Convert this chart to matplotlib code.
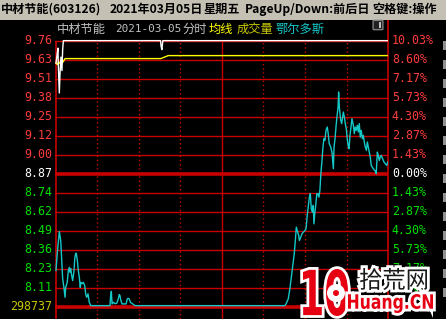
import matplotlib
matplotlib.use('Agg')
import matplotlib.pyplot as plt
import matplotlib.patheffects as pe
from matplotlib.patches import Rectangle, PathPatch, Circle, FancyBboxPatch
from matplotlib.textpath import TextPath
from matplotlib.font_manager import FontProperties
from matplotlib.transforms import Affine2D, IdentityTransform

# ---- data ----
prev_close = 8.87

# row levels (percent vs previous close) and their labels
row_pct = [10.03, 8.60, 7.17, 5.73, 4.30, 2.87, 1.43, 0.00,
           -1.43, -2.87, -4.30, -5.73, -7.17, -8.60, -10.03]
left_labels = ['9.76', '9.63', '9.51', '9.38', '9.25', '9.12', '9.00', '8.87',
               '8.74', '8.62', '8.49', '8.36', '8.23', '8.11', '298737']
right_labels = ['10.03%', '8.60%', '7.17%', '5.73%', '4.30%', '2.87%', '1.43%', '0.00%',
                '1.43%', '2.87%', '4.30%', '5.73%', '7.17%', '8.60%']

# 中材节能 price (white) and average (yellow), minutes after open
price_t = [0.5, 1.2, 1.9, 2.2, 2.9, 3.4, 4.1, 4.8, 5.3, 5.8, 75.8, 76.3, 76.8, 77.5, 240]
price_v = [9.61, 9.66, 9.71, 9.59, 9.41, 9.54, 9.65, 9.56, 9.70, 9.76, 9.76, 9.72, 9.70, 9.76, 9.76]

avg_t = [0.5, 1.4, 2.4, 3.1, 4.1, 4.8, 5.8, 7.0, 76.0, 81.4, 240]
avg_v = [9.61, 9.60, 9.62, 9.61, 9.60, 9.61, 9.62, 9.64, 9.64, 9.66, 9.66]

# 鄂尔多斯 overlay (cyan), percent change
ed_t = [0.5, 1.4, 2.9, 3.9, 4.6, 5.3, 6.3, 7.0, 7.5, 8.6,
        9.4, 10.1, 10.6, 11.1, 11.8, 12.5, 13.5, 14.0, 14.7, 15.1,
        15.9, 16.6, 17.3, 18.0, 18.5, 19.5, 20.2, 21.2, 21.9, 22.6,
        23.6, 24.5, 25.5, 39.4, 39.9, 40.4, 40.9, 41.8, 43.0, 44.3,
        45.4, 46.1, 46.6, 47.3, 48.1, 51.0, 51.9, 52.6, 53.3, 54.1,
        55.8, 57.4, 165.5, 166.3, 167.9, 169.2, 170.4, 171.5, 172.2, 173.0,
        173.7, 174.4, 175.4, 175.9, 176.9, 177.8, 178.7, 180.0, 180.7, 181.6,
        182.3, 183.1, 183.8, 184.5, 185.2, 185.9, 186.4, 187.1, 187.8, 188.5,
        189.3, 190.0, 190.7, 191.4, 192.2, 192.9, 193.6, 194.3, 195.1, 196.0,
        196.7, 197.4, 198.5, 199.4, 199.9, 200.4, 200.9, 201.6, 202.3, 203.0,
        203.8, 204.2, 204.7, 205.2, 205.7, 206.4, 207.1, 207.6, 208.3, 209.0,
        209.7, 210.4, 211.2, 211.7, 212.4, 213.1, 213.8, 214.8, 215.5, 216.2,
        216.9, 217.7, 218.4, 219.1, 219.8, 220.5, 221.3, 222.0, 222.7, 223.4,
        224.2, 224.9, 225.6, 226.3, 227.0, 227.7, 228.7, 229.7, 230.6, 231.3,
        232.1, 232.8, 233.5, 234.2, 234.9, 235.9, 236.9, 237.8, 238.8, 239.7]
ed_pct = [-7.30, -6.02, -4.36, -5.04, -6.55, -7.91, -8.66, -9.32, -8.57, -8.19,
          -7.30, -7.06, -7.43, -7.15, -7.68, -8.06, -7.30, -6.40, -6.02, -6.00,
          -6.55, -7.30, -7.81, -8.57, -8.19, -8.29, -8.19, -8.44, -9.06, -9.32,
          -9.06, -9.70, -9.95, -9.95, -9.19, -8.87, -9.82, -9.70, -9.80, -9.77,
          -9.44, -9.12, -9.19, -9.57, -9.82, -9.82, -9.44, -9.40, -9.44, -9.70,
          -9.82, -9.95, -9.95, -9.82, -9.44, -8.57, -7.55, -6.68, -6.04, -5.04,
          -4.03, -4.28, -4.66, -5.04, -4.79, -4.53, -4.41, -4.28, -4.15, -3.15,
          -2.52, -1.77, -1.51, -2.64, -2.90, -2.39, -3.78, -2.90, -2.27, -1.51,
          -1.51, -1.77, -1.26, 0.00, 1.00, 2.01, 2.64, 2.52, 3.27, 3.52,
          3.02, 2.27, 2.01, 1.63, 1.00, 0.38, 2.01, 2.64, 3.52, 4.28,
          5.03, 6.16, 5.03, 4.53, 4.03, 3.78, 4.28, 4.65, 4.28, 3.78,
          3.40, 2.64, 2.01, 1.89, 2.89, 3.52, 4.15, 3.65, 3.02, 3.52,
          3.27, 3.65, 3.14, 3.78, 2.76, 3.27, 2.64, 2.89, 2.39, 2.01,
          1.76, 2.39, 2.01, 1.63, 1.25, 0.63, 0.45, 0.30, 0.20, 0.00,
          1.63, 1.38, 1.00, 1.25, 1.38, 1.13, 0.88, 0.76, 0.63, 0.88]

# ---- colours ----
RED = '#c80000'
UP = '#ff3c3c'
DOWN = '#00e000'
VOL = '#c8c800'
CYAN = '#14c8c8'

W, H = 446, 319


def fx(px):
    return px / W


def fy(py):
    return 1 - py / H


def to_price(p):
    return prev_close * (1 + p / 100)


fig = plt.figure(figsize=(W / 100, H / 100), dpi=100, facecolor='black')

# title bar
fig.patches.append(Rectangle((0, fy(19.5)), 1, 19.5 / H, transform=fig.transFigure,
                             facecolor='#c4c0b4', edgecolor='none'))
title_font = dict(family=['Noto Sans CJK SC', 'DejaVu Sans'], weight='bold', fontsize=8.7,
                  color='black', va='center')
for txt, x in [('中材节能(603126)', 1), ('2021年03月05日', 110), ('星期五', 204),
               ('PageUp/Down:前后日', 245), ('空格键:操作', 372)]:
    fig.text(fx(x), fy(9.5), txt, **title_font)

# main chart area: x 55.3..388.3 px, price 9.76 at 40.7 px, 7.98 at 306.7 px
top_p, bot_p = to_price(row_pct[0]), to_price(row_pct[-1])
scale = (306.7 - 40.7) / (top_p - bot_p)
ax = fig.add_axes([fx(55.3), 0, (388.3 - 55.3) / W, (H - 20) / H])
ax.set_facecolor('black')
ax.set_xlim(0, 240)
ax.set_ylim(bot_p - (H - 306.7) / scale, top_p + (40.7 - 20) / scale)
ax.set_xticks([])
ax.set_yticks([])
for s in ax.spines.values():
    s.set_visible(False)
y0 = ax.get_ylim()[0]

rows = [to_price(p) for p in row_pct]
for i, r in enumerate(rows):
    lw = 2.6 if row_pct[i] in (0.0, -10.03) else 1.0
    ax.axhline(r, color=RED, lw=lw, zorder=1)

for m in [30, 60, 90, 150, 180, 210]:
    ax.vlines(m, y0, top_p, color=RED, lw=1.0, linestyles=(0, (1, 2)), zorder=1)
ax.vlines(120, y0, top_p, color=RED, lw=1.0, zorder=1)
ax.vlines(0.3, y0, top_p, color=RED, lw=1.2, zorder=1, clip_on=False)
ax.axvline(239.7, color=RED, lw=1.2, zorder=1, clip_on=False)

# lines
ax.plot(ed_t, [to_price(p) for p in ed_pct], color=CYAN, lw=1.0, zorder=3)
ax.plot(avg_t, avg_v, color='#ffff00', lw=1.0, zorder=4)
ax.plot(price_t, price_v, color='white', lw=1.0, zorder=5)

# axis labels
lab_font = dict(family='DejaVu Sans Mono', fontsize=8.4, va='center')
for i, lab in enumerate(left_labels):
    pct = row_pct[i]
    c = UP if pct > 0 else ('white' if pct == 0 else DOWN)
    if i == len(left_labels) - 1:
        c = VOL
    ax.text(-3.5 / 333, rows[i], lab, transform=ax.get_yaxis_transform(),
            ha='right', color=c, clip_on=False, **lab_font)
for i, lab in enumerate(right_labels):
    pct = row_pct[i]
    c = UP if pct > 0 else ('white' if pct == 0 else DOWN)
    ax.text(1 + 3.5 / 333, rows[i], lab, transform=ax.get_yaxis_transform(),
            ha='left', color=c, clip_on=False, **lab_font)

# header row
for txt, x, c, fs in [('中材节能', 57, '#c0c0c0', 8.8), ('2021-03-05', 115, '#c0c0c0', 7.9),
                      ('分时', 182, '#c0c0c0', 8.8), ('均线', 209, '#ffff00', 8.8),
                      ('成交量', 237, VOL, 8.8), ('鄂尔多斯', 275, CYAN, 8.8)]:
    fig.text(fx(x), fy(29.5), txt, color=c, fontsize=fs, va='center',
             family=['DejaVu Sans Mono', 'Noto Sans CJK SC'])

# small icon top right
fig.patches.append(FancyBboxPatch((fx(374), fy(29)), 8 / W, 8 / H,
                                  boxstyle='round,pad=0.002', transform=fig.transFigure,
                                  facecolor='#202020', edgecolor='#808080', lw=1))
fig.patches.append(Rectangle((fx(379), fy(28)), 2 / W, 6 / H, transform=fig.transFigure,
                             facecolor='#c0c0c0', edgecolor='none'))

# right edge ticks
for r in range(14):
    py = 40.7 + r * 19
    fig.patches.append(Rectangle((fx(443), fy(py + 9)), 3 / W, 9 / H,
                                 transform=fig.transFigure, facecolor='#909090',
                                 edgecolor='none'))


# watermark
def path_text(s, x0, ytop, w, h, color, stroke, family, weight='bold'):
    tp = TextPath((0, 0), s, size=100, prop=FontProperties(family=family, weight=weight))
    bb = tp.get_extents()
    tr = (Affine2D().translate(-bb.x0, -bb.y0)
          .scale(w / bb.width, h / bb.height)
          .translate(x0, H - ytop - h))
    p = PathPatch(tp, transform=tr, facecolor=color, edgecolor='none', zorder=10)
    p.set_path_effects([pe.Stroke(linewidth=stroke, foreground='white'), pe.Normal()])
    fig.add_artist(p)


path_text('10', 303, 269, 45, 47, '#e60012', 4, 'DejaVu Sans')
fig.add_artist(Circle((336, H - 293), 9, transform=IdentityTransform(),
                      facecolor='white', edgecolor='none', zorder=11))
fig.add_artist(Circle((336, H - 293), 3, transform=IdentityTransform(),
                      facecolor='#e60012', edgecolor='none', zorder=12))
path_text('拾荒网', 360, 268, 67, 22, '#1a1a1a', 4, 'Noto Sans CJK SC', 'normal')
path_text('Huang.CN', 348, 294, 85, 19, '#e60012', 4, 'DejaVu Sans')

fig.savefig('out.png', dpi=100, facecolor='black')
